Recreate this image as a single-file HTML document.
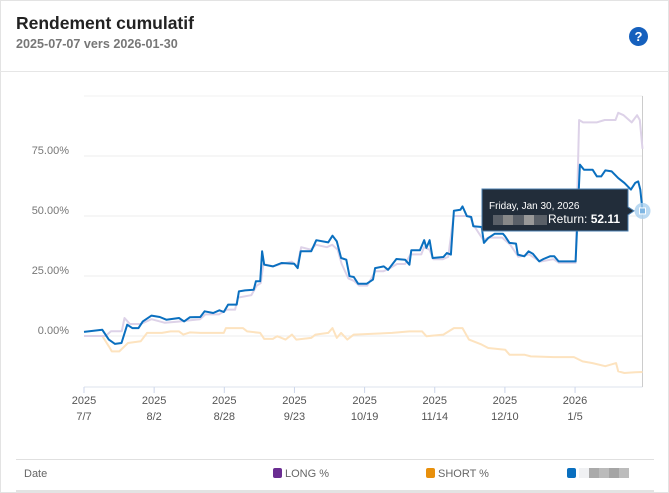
<!DOCTYPE html>
<html><head><meta charset="utf-8">
<style>
html,body{margin:0;padding:0;background:#fff;}
body{width:669px;height:493px;overflow:hidden;font-family:"Liberation Sans",sans-serif;position:relative;}
.card{position:absolute;left:0;top:0;width:667px;height:491px;border:1px solid #e3e3e3;}
.title{position:absolute;left:16px;top:13px;font-size:17.5px;font-weight:bold;color:#222;}
.sub{position:absolute;left:16px;top:37px;font-size:12.6px;color:#777;font-weight:bold;}
.help{position:absolute;left:629px;top:27px;width:19px;height:19px;border-radius:50%;background:#1560bd;color:#fff;font-size:13px;font-weight:bold;text-align:center;line-height:19px;}
.hdiv{position:absolute;left:0;top:71px;width:669px;height:1px;background:#e6e6e6;}
.leg{position:absolute;left:16px;top:459px;width:638px;height:30px;border-top:1px solid #e0e0e0;border-bottom:2px solid #e3e3e3;font-size:11px;color:#666;}
.leg span{position:absolute;top:8px;}
.sw{display:inline-block;width:9px;height:10px;border-radius:2px;vertical-align:-1px;margin-right:3px;}
</style></head><body>
<div class="card"></div>
<div class="title">Rendement cumulatif</div>
<div class="sub">2025-07-07 vers 2026-01-30</div>
<div class="help">?</div>
<div class="hdiv"></div>
<svg id="chart" width="669" height="493" style="position:absolute;left:0;top:0"></svg>
<div class="leg">
<span style="left:8px">Date</span>
<span style="left:257px"><i class="sw" style="background:#6a2d91"></i>LONG %</span>
<span style="left:410px"><i class="sw" style="background:#e8900c"></i>SHORT %</span>
<span style="left:551px"><i class="sw" style="background:#0a6fbf"></i><i style="display:inline-block;width:10px;height:10px;background:#f0f1f3;vertical-align:-1px"></i><i style="display:inline-block;width:40px;height:10px;background:linear-gradient(90deg,#aaa 0 25%,#bbb 25% 50%,#a5a5a5 50% 75%,#bcbcbc 75%);vertical-align:-1px"></i></span>
</div>
<script>
const xTickDays=[0,26,52,78,104,130,156,182];
const xTickYears=["2025","2025","2025","2025","2025","2025","2025","2026"];
const xTickDates=["7/7","8/2","8/28","9/23","10/19","11/14","12/10","1/5"];
const yTicks=[0,25,50,75];
const yTickLabels=["0.00%","25.00%","50.00%","75.00%"];
const mainDays=[0,6.8,9.2,11.5,13.9,16,17.9,20.2,21.8,25,28.1,30.5,35.2,37.1,39.2,43.1,44.7,47.9,50.2,51.8,53.4,56.6,57.4,59.7,62.9,63.7,65.3,66,66.8,70,73.2,77.9,79.2,80.3,84.2,86.1,90.5,92.1,93.7,95.3,97.2,98.4,100,101.6,104.8,107.1,107.9,111.1,112.7,115.8,119,120.6,121.3,124.5,126.1,126.9,128.1,129.2,133.2,134.5,136,137.1,139.5,140.3,141.9,143.5,144.3,147.4,148.2,149.8,152.2,155.3,156.1,157.7,160.1,160.8,163.2,164.8,166.4,168.7,170.3,172.7,174.3,175.9,182.2,183.8,185.3,188.5,190.1,191.7,193.2,195.6,198,200.3,202.7,204.3,205.4,206.2,207];
const mainVals=[1.7,2.6,-1.5,-3.3,-2.9,4.7,3.3,3.3,6.1,8.5,7.9,6.8,7.5,6.1,7.8,7.9,10.3,9.6,10.7,10,13.1,13.1,18.6,19,19.3,22.8,22.8,35.3,29.7,29,30.4,30.1,28.3,35.3,35.3,39.9,39,41.8,39.4,32.5,31.8,24.9,24.6,21.8,21.8,23.5,28.3,29,27.6,32.1,31.8,29.7,35.7,35.7,39.9,36.7,39.9,32.5,32.9,34.6,33.9,52.2,52.6,54,49.9,49.6,45.7,45.4,38.8,40.8,42.6,42.6,41.5,38.8,38.5,33.9,33.2,35.3,34.2,31.1,32.1,33.2,33.2,31.1,31.1,71.4,69.3,69.3,66.5,66.5,69,68.6,65.8,63.8,61,63.8,64.4,61,52.11];
const longDays=[0,8,10,14,15,17,21,25,30,35,39,43,45,50,53,56,57,62,64,65.5,66.5,70,73,77,79,80.5,84,86,90,92,94,95.5,98,100,102,105,108,111,113,116,119,121,125,126,128,129.5,133,135,137,140,143,144.5,148,150,155,158,161,165,169,174,176,182.2,183.5,185,190,193,197,198,200,203,205,206,207];
const longVals=[0,0,2,2,7.5,5,5,7,5.5,6,6.5,7,9,9,11,11,16,17,21,22,30,29,30,31,29,37,36,38,37,38,36,30,24,23,21,21,27,27,28,30,30,34,34,37,36,32,32,33,50,50,50,46,40,41,41,38,33,34,31,32,30.5,30.5,90,89,89,90,90,93,92,89,92,90,78];
const shortDays=[0,6.8,9.2,10.3,13.1,16.3,21,23.4,28.9,32.1,35.2,36.8,39.2,43.1,51.8,52.6,58.9,60.5,65.3,66.8,70,71.6,74.7,77.1,78.7,84.2,85.8,90.5,92.1,93.7,95.3,97.6,100,114.2,120.6,125.3,126.9,133.2,137.1,140.3,142.7,147.4,149.8,156.1,157.7,163.2,165.6,174.3,181.6,184.8,188.5,193.2,197.2,198,200.3,204.3,207];
const shortVals=[0,0,-4.3,-6.4,-6.4,-2.9,-2.2,1.3,1.3,1.9,1.9,0.6,1.5,1.3,1.3,3.3,3.3,1.9,1.3,-1.2,-1.2,-0.1,-1.5,0.6,-1.5,-0.8,0.6,1.3,3.3,-0.8,1.3,-1.5,0.6,1.3,1.9,1.9,-0.1,0.6,3.3,3.3,-1.5,-3.6,-5,-5.7,-7.8,-7.8,-8.5,-8.8,-8.8,-10.6,-11.3,-12.6,-11.3,-14.7,-15.4,-15.1,-15];

const NS="http://www.w3.org/2000/svg";
const svg=document.getElementById('chart');
const X0=84,X1=642.5,DMAX=207,Y0=336,PXPCT=2.4,TOP=96,BOT=387;
const xs=d=>X0+(X1-X0)*d/DMAX;
const ys=v=>Y0-v*PXPCT;
function mk(tag,attrs,parent){const e=document.createElementNS(NS,tag);for(const k in attrs)e.setAttribute(k,attrs[k]);(parent||svg).appendChild(e);return e;}
const tg=mk('line',{x1:X0,x2:X1,y1:TOP,y2:TOP,stroke:'#f0f0f0'});


yTicks.forEach((v,i)=>{
  const l=mk('line',{x1:X0,x2:X1,y1:ys(v),y2:ys(v),stroke:'#ececec'});
  
  
  const t=mk('text',{x:69,y:ys(v)-2,'text-anchor':'end','font-size':11,fill:'#777'});
  t.textContent=yTickLabels[i];
  
  
});
const ax=mk('line',{x1:X0,x2:X1,y1:BOT,y2:BOT,stroke:'#dde3ee'});


const vl=mk('line',{x1:X1,x2:X1,y1:TOP,y2:BOT,stroke:'#ccc'});


xTickDays.forEach((d,i)=>{
  const tk=mk('line',{x1:xs(d),x2:xs(d),y1:BOT,y2:BOT+6,stroke:'#ccd6eb'});
  
  
  const t1=mk('text',{x:xs(d),y:BOT+17,'text-anchor':'middle','font-size':11,fill:'#555'});
  t1.textContent=xTickYears[i];
  
  
  const t2=mk('text',{x:xs(d),y:BOT+33,'text-anchor':'middle','font-size':11,fill:'#555'});
  t2.textContent=xTickDates[i];
  
  
});
function line(days,vals,color,w){return mk('path',{d:days.map((d,i)=>(i?'L':'M')+xs(d).toFixed(1)+','+ys(vals[i]).toFixed(1)).join(''),fill:'none',stroke:color,'stroke-width':w,'stroke-linejoin':'round'});}
const sl=line(shortDays,shortVals,'#fde3bf',2);


const ll=line(longDays,longVals,'#ddd2e8',2);


const ml=line(mainDays,mainVals,'#0a6fbf',2);


const last=mainVals[mainVals.length-1];
const my=ys(last);
const mc=mk('circle',{cx:X1,cy:my,r:8,fill:'#a9d0ef',opacity:0.8});


const ms=mk('rect',{x:X1-3,y:my-3,width:6,height:6,fill:'#7fb6e3',stroke:'#fff','stroke-width':1});


const tt=mk('g',{});


mk('path',{d:`M482,189H628V${my-4}L634,${my}L628,${my+4}V231H482Z`,fill:'#222d3a',stroke:'#4a7fb0','stroke-width':1},tt);
const tdt=mk('text',{x:489,y:209,'font-size':10,fill:'#fff'},tt);tdt.textContent='Friday, Jan 30, 2026';
mk('rect',{x:493,y:215,width:54,height:10,fill:'#5a6068'},tt);
mk('rect',{x:503,y:215,width:10,height:10,fill:'#888'},tt);
mk('rect',{x:524,y:215,width:10,height:10,fill:'#999'},tt);
const tr=mk('text',{x:548,y:223,'font-size':12,fill:'#fff'},tt);
tr.innerHTML='Return: <tspan font-weight="bold">'+last.toFixed(2)+'</tspan>';
</script>
</body></html>
